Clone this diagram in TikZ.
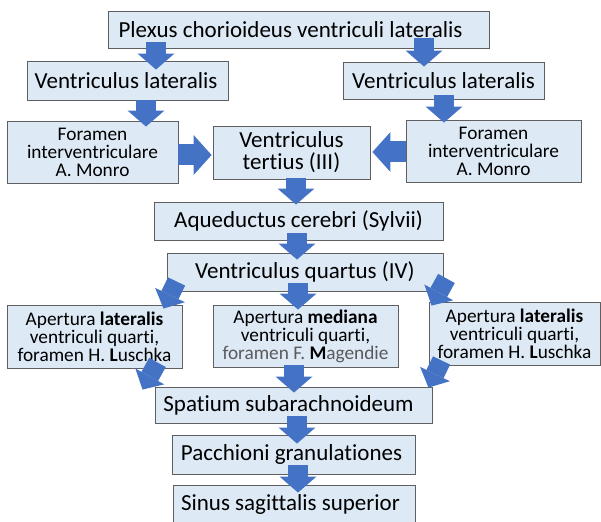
\documentclass[tikz,border=0pt]{standalone}
\usepackage{fontspec}
\setmainfont{Carlito}[Ligatures=NoCommon]
\usetikzlibrary{arrows.meta,calc}
\definecolor{boxfill}{HTML}{DDEAF6}
\definecolor{boxline}{HTML}{5F5F5F}
\definecolor{flowblue}{HTML}{4472C4}
\definecolor{softtext}{HTML}{5A5A5A}
% pull a centred one-line label leftwards by half of #1
\newcommand\leftnudge[1]{\hspace*{-#1}}

\begin{document}
\begin{tikzpicture}[x=1pt,y=-1pt,
  box/.style={draw=boxline, fill=boxfill, line width=0.9pt, inner sep=0pt,
    align=center, text=black, font=\fontsize{23}{22}\selectfont},
  smallbox/.style={box, font=\fontsize{19.3}{18}\selectfont},
  flow/.style={draw=flowblue, line width=20pt,
    -{Triangle[width=37pt,length=16pt,line width=0pt]}},
  sideflow/.style={draw=flowblue, line width=21pt,
    -{Triangle[width=40pt,length=18pt,line width=0pt]}},
  slantflow/.style={draw=flowblue, line width=19pt,
    -{Triangle[width=33pt,length=15pt,line width=0pt]}},
]
\useasboundingbox (0,0) rectangle (601,521);
\fill[white] (0,0) rectangle (601,521);

% boxes
\node[box, minimum width=381pt, minimum height=37pt] (plexus) at (298.5,29.5)
  {\leftnudge{16pt}Plexus chorioideus ventriculi lateralis};
\node[box, minimum width=201pt, minimum height=39pt] (vlL) at (127.5,80.5)
  {\leftnudge{3pt}Ventriculus lateralis};
\node[box, minimum width=201pt, minimum height=37pt] (vlR) at (443.5,80.5)
  {Ventriculus lateralis};
\node[smallbox, minimum width=171pt, minimum height=62pt] (forL) at (92.5,152)
  {Foramen\\interventriculare\\A. Monro};
\node[box, minimum width=157pt, minimum height=53pt] (tert) at (291.5,152.5)
  {Ventriculus\\tertius (III)};
\node[smallbox, minimum width=175pt, minimum height=62pt] (forR) at (493.5,151)
  {Foramen\\interventriculare\\A. Monro};
\node[box, minimum width=289pt, minimum height=38pt] (aqu) at (298.5,221)
  {Aqueductus cerebri (Sylvii)};
\node[box, minimum width=276pt, minimum height=38pt] (quart) at (305,272)
  {Ventriculus quartus (IV)};
\node[smallbox, minimum width=175pt, minimum height=63pt] (aperL) at (94.5,336.5)
  {Apertura \textbf{lateralis}\\ventriculi quarti,\\foramen H. \textbf{L}uschka};
\node[smallbox, minimum width=185pt, minimum height=62pt] (med) at (305.5,336)
  {Apertura \textbf{mediana}\\ventriculi quarti,\\{\color{softtext}foramen F. }\textbf{M}{\color{softtext}agendie}};
\node[smallbox, minimum width=171pt, minimum height=63pt] (aperR) at (514.5,333.5)
  {Apertura \textbf{lateralis}\\ventriculi quarti,\\foramen H. \textbf{L}uschka};
\node[box, minimum width=277pt, minimum height=36pt] (spat) at (293.5,405)
  {\leftnudge{10pt}Spatium subarachnoideum};
\node[box, minimum width=243pt, minimum height=39pt] (pacc) at (293.5,454.5)
  {\leftnudge{4pt}Pacchioni granulationes};
\node[box, minimum width=242pt, minimum height=39pt] (sinus) at (294,504.5)
  {\leftnudge{7pt}Sinus sagittalis superior};

% block arrows between boxes
\draw[flow] ($(plexus.south)+(-142.5,-6)$) -- ($(vlL.north)+(28.5,9)$);
\draw[flow] ($(plexus.south)+(125.5,-10)$) -- ($(vlR.north)+(-19.5,5)$);
\draw[flow] ($(vlL.south)+(18.5,0)$) -- ($(forL.north)+(53.5,6)$);
\draw[flow] ($(vlR.south)+(0.5,-4)$) -- ($(forR.north)+(-49.5,3)$);
\draw[sideflow] ($(forL.east)+(0,3)$) -- ($(tert.west)+(-1,2.5)$);
\draw[sideflow] ($(forR.west)+(0,1)$) -- ($(tert.east)+(2,-0.5)$);
\draw[flow] ($(tert.south)+(4.5,-1)$) -- ($(aqu.north)+(-2.5,3)$);
\draw[flow] ($(aqu.south)+(-1.5,-7)$) -- ($(quart.north)+(-8,7)$);
\draw[flow] ($(quart.south)+(-7,-8)$) -- ($(med.north)+(-7.5,5)$);
\draw[slantflow] ($(quart.south west)+(10,-10)$) -- ($(aperL.north east)+(-19,4)$);
\draw[slantflow] ($(quart.south east)+(3,-13)$) -- ($(aperR.north west)+(3,4)$);
\draw[slantflow] ($(aperL.south east)+(-25,-6)$) -- ($(spat.north west)+(-12,3)$);
\draw[flow] ($(med.south)+(-11.5,-2)$) -- ($(spat.north)+(0.5,6)$);
\draw[slantflow] ($(aperR.south west)+(13,-5)$) -- ($(spat.north east)+(-4,1)$);
\draw[flow] ($(spat.south)+(3.5,-7)$) -- ($(pacc.north)+(3.5,9)$);
\draw[flow] ($(pacc.south)+(4.5,-9)$) -- ($(sinus.north)+(4,8)$);
\end{tikzpicture}
\end{document}
